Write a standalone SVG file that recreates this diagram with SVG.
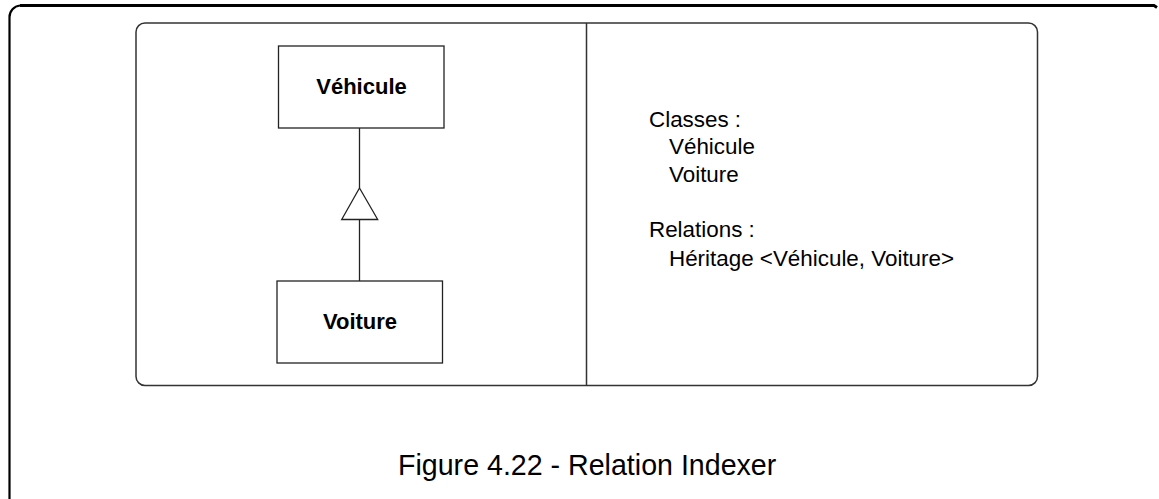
<svg xmlns="http://www.w3.org/2000/svg" width="1159" height="499" viewBox="0 0 1159 499">
<style>
.frame{fill:none;stroke:#000}
.panel{fill:#fff;stroke:#333;stroke-width:1.5}
.box{fill:#fff;stroke:#222;stroke-width:1.3}
.conn{fill:none;stroke:#222;stroke-width:1.3}
.name{font-family:"Liberation Sans",Arial,sans-serif;font-weight:bold;font-size:22px;fill:#000;text-anchor:middle}
.txt{font-family:"Liberation Sans",Arial,sans-serif;font-size:22.4px;fill:#000}
.cap{font-family:"Liberation Sans",Arial,sans-serif;font-size:28.6px;fill:#000}
</style>
<rect width="1159" height="499" fill="#fff"/>
<g id="frame">
<path class="frame" stroke-width="3" d="M20,5.5 H1154 l3,2"/>
<path class="frame" stroke-width="2.2" d="M9.5,505 V17 A11.5,11.5 0 0 1 20,5.5"/>
</g>
<g id="panel">
<rect class="panel" x="136" y="23" width="901.5" height="362.5" rx="9"/>
<line class="panel" x1="586.5" y1="23" x2="586.5" y2="385.5"/>
</g>
<g id="connectors">
<line class="conn" x1="359.5" y1="128" x2="359.5" y2="188"/>
<polygon class="conn" points="359.5,188 377.7,219.5 341.7,219.5"/>
<line class="conn" x1="359.5" y1="219.5" x2="359.5" y2="281"/>
</g>
<g id="vehicule">
<rect class="box" x="278.5" y="46" width="165.5" height="82"/>
<text class="name" x="361.5" y="94">Véhicule</text>
</g>
<g id="voiture">
<rect class="box" x="277" y="281" width="165.5" height="82"/>
<text class="name" x="360" y="329">Voiture</text>
</g>
<g id="legend">
<text class="txt" x="649" y="127">Classes :</text>
<text class="txt" x="669" y="154">Véhicule</text>
<text class="txt" x="669" y="181.5">Voiture</text>
<text class="txt" x="649" y="237">Relations :</text>
<text class="txt" x="669" y="265.5">Héritage &lt;Véhicule, Voiture&gt;</text>
</g>
<g id="caption">
<text class="cap" x="398" y="475">Figure 4.22 - Relation Indexer</text>
</g>
</svg>
